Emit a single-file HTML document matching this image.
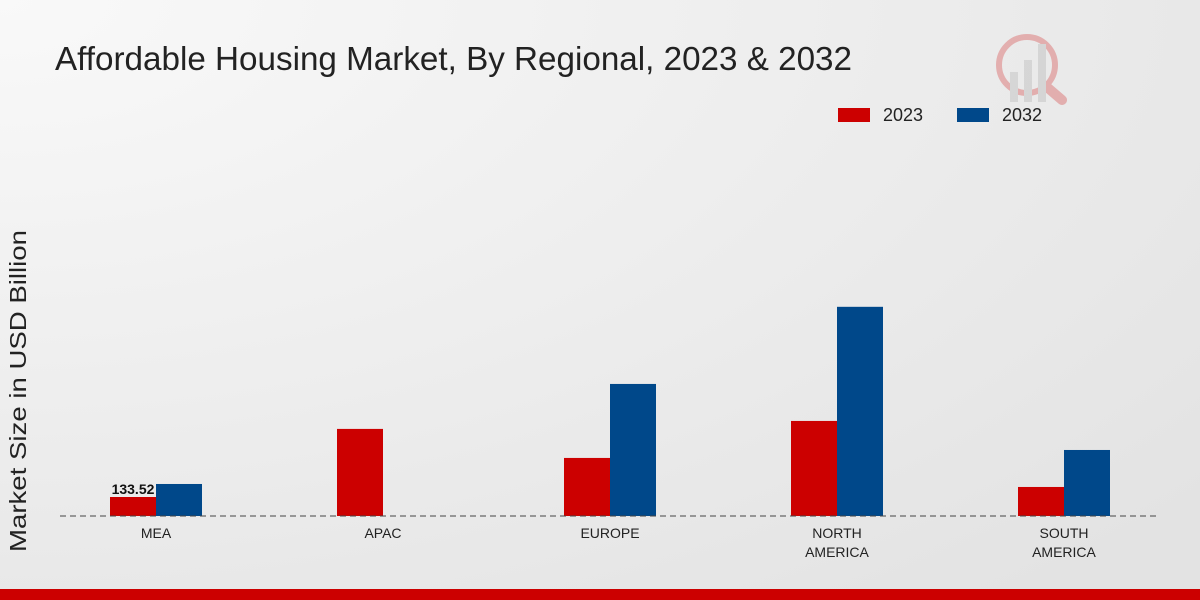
<!DOCTYPE html>
<html><head><meta charset="utf-8"><style>
html,body{margin:0;padding:0;width:1200px;height:600px;overflow:hidden}
svg{display:block;font-family:"Liberation Sans",sans-serif}
</style></head><body>
<svg id="chart" width="1200" height="600">
<defs><radialGradient id="bg" cx="0" cy="0" r="1.3"><stop offset="0" stop-color="#f9f9f9"/><stop offset="1" stop-color="#e3e3e3"/></radialGradient></defs>
<rect width="1200" height="600" fill="url(#bg)"/>
<rect y="589" width="1200" height="11" fill="#cc0000"/>
<text x="55" y="70" font-size="33" fill="#222" textLength="797" lengthAdjust="spacingAndGlyphs">Affordable Housing Market, By Regional, 2023 &amp; 2032</text>
<g opacity="0.25">
<circle cx="1027" cy="65" r="28" fill="none" stroke="#cc0000" stroke-width="6"/>
<line x1="1048" y1="88" x2="1062" y2="100" stroke="#cc0000" stroke-width="10" stroke-linecap="round"/>
<rect x="1010" y="72" width="8" height="30" fill="#999"/><rect x="1024" y="60" width="8" height="42" fill="#999"/><rect x="1038" y="44" width="8" height="58" fill="#999"/>
</g>
<g>
<rect x="838" y="108" width="32" height="14" fill="#cc0000"/>
<text x="883" y="121" font-size="18" fill="#222">2023</text>
<rect x="957" y="108" width="32" height="14" fill="#00488a"/>
<text x="1002" y="121" font-size="18" fill="#222">2032</text>
</g>
<text transform="translate(26,391) rotate(-90)" text-anchor="middle" font-size="23" fill="#222" textLength="322" lengthAdjust="spacingAndGlyphs">Market Size in USD Billion</text>
<g id="bars"></g>
<line x1="60" y1="516" x2="1160" y2="516" stroke="#444" stroke-dasharray="6,4"/>
<g id="labels"></g>
</svg>
<script>
const categories=[["MEA"],["APAC"],["EUROPE"],["NORTH","AMERICA"],["SOUTH","AMERICA"]];
const values2023=[133.52,612,408,668,204];
const values2032=[225,0,928,1470,464];
const ns="http://www.w3.org/2000/svg";
const baseY=516, pxPer=19/133.52;
const y=v=>baseY-v*pxPer;
const xc=i=>156+i*227;
const bars=document.getElementById("bars"), labels=document.getElementById("labels");
function bar(x,v,c,name){
  const r=document.createElementNS(ns,"rect");
  r.setAttribute("x",x);r.setAttribute("y",y(v));r.setAttribute("width",46);r.setAttribute("height",baseY-y(v));r.setAttribute("fill",c);
  
  
  bars.appendChild(r);
}
categories.forEach((c,i)=>{
  bar(xc(i)-46,values2023[i],"#cc0000","bar-2023-"+c.join("-").toLowerCase());
  bar(xc(i),values2032[i],"#00488a","bar-2032-"+c.join("-").toLowerCase());
  c.forEach((line,j)=>{
    const t=document.createElementNS(ns,"text");
    t.setAttribute("x",xc(i));t.setAttribute("y",538+j*19);t.setAttribute("text-anchor","middle");t.setAttribute("font-size","14");t.setAttribute("fill","#222");
    t.textContent=line;
    
    
    labels.appendChild(t);
  });
});
const vl=document.createElementNS(ns,"text");
vl.setAttribute("x",xc(0)-23);vl.setAttribute("y",y(values2023[0])-3);vl.setAttribute("text-anchor","middle");vl.setAttribute("font-size","14");vl.setAttribute("font-weight","bold");vl.setAttribute("fill","#111");
vl.textContent=values2023[0].toFixed(2);


labels.appendChild(vl);
</script>
</body></html>
